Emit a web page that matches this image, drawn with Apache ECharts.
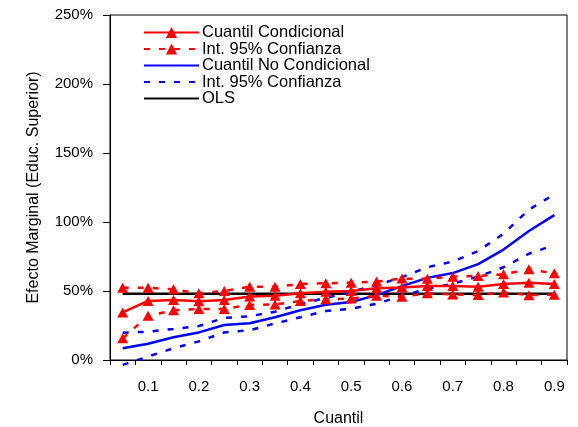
<!DOCTYPE html>
<html>
<head>
<meta charset="utf-8">
<script src="https://cdn.jsdelivr.net/npm/echarts@6/dist/echarts.min.js"></script>
<style>html,body{margin:0;padding:0;background:#fff}#c{width:578px;height:427px}</style>
</head>
<body>
<div id="c"></div>
<script>
const quantiles = ['0.05','0.1','0.15','0.2','0.25','0.3','0.35','0.4','0.45','0.5','0.55','0.6','0.65','0.7','0.75','0.8','0.85','0.9'];
const yTicks = [0, 50, 100, 150, 200, 250];
const cqMain  = [34.5, 42.8, 43.5, 42.5, 43.5, 46.0, 46.5, 48.3, 49.5, 50.0, 52.0, 52.5, 53.7, 53.7, 53.1, 55.0, 56.0, 55.1];
const cqUpper = [52.4, 52.4, 51.2, 48.3, 50.0, 53.1, 53.1, 55.0, 55.6, 56.0, 56.8, 59.0, 58.8, 60.4, 60.9, 62.1, 65.7, 62.8];
const cqLower = [15.7, 32.1, 36.0, 37.0, 37.0, 39.9, 40.3, 42.8, 44.0, 44.5, 46.5, 45.9, 48.3, 47.5, 47.1, 49.0, 47.0, 47.3];
const uqMain  = [8.5, 11.8, 16.5, 20.0, 25.4, 26.6, 31.0, 36.0, 40.0, 42.0, 47.0, 53.5, 59.5, 63.0, 69.5, 80.0, 93.5, 105.0];
const uqUpper = [19.8, 20.5, 22.5, 24.6, 30.5, 31.7, 35.0, 40.5, 45.0, 49.5, 54.3, 60.0, 67.2, 71.3, 79.0, 91.5, 109.0, 120.0];
const uqLower = [-3.5, 2.5, 8.5, 13.5, 20.0, 21.5, 26.5, 31.0, 35.5, 37.2, 40.8, 46.5, 51.5, 55.3, 60.5, 67.2, 77.0, 83.3];
const ols     = [48, 48, 48, 48, 48, 48, 48, 48, 48, 48, 48, 48, 48, 48, 48, 48, 48, 48];

const names = {
  cq: 'Cuantil Condicional',
  cqci: 'Int. 95% Confianza',
  uq: 'Cuantil No Condicional',
  uqci: 'Int. 95% Confianza ',
  ols: 'OLS'
};

const FONT = 'Liberation Sans, Arial, sans-serif';
const RED = '#ff0000', BLUE = '#0000ff', BLACK = '#000000';

function lineSeries(name, data, color, width, dashed, tri) {
  return {
    name: name,
    type: 'line',
    data: data,
    clip: false,
    smooth: false,
    symbol: tri ? 'triangle' : 'none',
    symbolSize: [11, 10],
    showSymbol: !!tri,
    showAllSymbol: true,
    itemStyle: { color: color },
    lineStyle: { color: color, width: width, type: dashed ? [6, 9] : 'solid' },
    emphasis: { disabled: true }
  };
}

const hiddenIcon = { opacity: 0 };

const chart = echarts.init(document.getElementById('c'), null, { renderer: 'canvas' });
chart.setOption({
  animation: false,
  backgroundColor: '#fff',
  textStyle: { fontFamily: FONT },
  grid: { left: 110, right: 11, top: 15, bottom: 67, show: true, borderColor: BLACK, borderWidth: 1, outerBoundsMode: 'none', containLabel: false },
  legend: {
    data: [
      { name: names.cq },
      { name: names.cqci },
      { name: names.uq, itemStyle: hiddenIcon },
      { name: names.uqci, itemStyle: hiddenIcon },
      { name: names.ols, itemStyle: hiddenIcon }
    ],
    orient: 'vertical',
    left: 143,
    top: 24,
    itemWidth: 55,
    itemHeight: 14,
    itemGap: -0.5,
    padding: 0,
    selectedMode: false,
    textStyle: { fontFamily: FONT, fontSize: 16.5, color: BLACK, padding: [0, 0, 0, -2] }
  },
  xAxis: {
    type: 'category',
    data: quantiles,
    boundaryGap: true,
    name: 'Cuantil',
    nameLocation: 'middle',
    nameGap: 51,
    nameTextStyle: { fontFamily: FONT, fontSize: 16, color: BLACK },
    axisLine: { show: true, lineStyle: { color: BLACK, width: 1 } },
    axisTick: { show: true, interval: 0, length: 5, lineStyle: { color: BLACK } },
    axisLabel: {
      interval: function (i) { return i % 2 === 1; },
      fontFamily: FONT, fontSize: 15, color: BLACK, margin: 19
    },
    splitLine: { show: false }
  },
  yAxis: {
    type: 'value',
    min: yTicks[0],
    max: yTicks[yTicks.length - 1],
    interval: 50,
    name: 'Efecto Marginal (Educ. Superior)',
    nameLocation: 'middle',
    nameGap: 68,
    nameTextStyle: { fontFamily: FONT, fontSize: 16, color: BLACK },
    axisLine: { show: true, lineStyle: { color: BLACK, width: 1 } },
    axisTick: { show: true, length: 7, lineStyle: { color: BLACK } },
    axisLabel: { formatter: '{value}%', fontFamily: FONT, fontSize: 15, color: BLACK, margin: 17 },
    splitLine: { show: false }
  },
  series: [
    lineSeries(names.ols, ols, BLACK, 2.6, false, false),
    lineSeries(names.uqci, uqUpper, BLUE, 2.5, true, false),
    lineSeries(names.uqci, uqLower, BLUE, 2.5, true, false),
    lineSeries(names.uq, uqMain, BLUE, 2.5, false, false),
    lineSeries(names.cqci, cqUpper, RED, 2.5, true, true),
    lineSeries(names.cqci, cqLower, RED, 2.5, true, true),
    lineSeries(names.cq, cqMain, RED, 2.5, false, true)
  ]
});
</script>
</body>
</html>
